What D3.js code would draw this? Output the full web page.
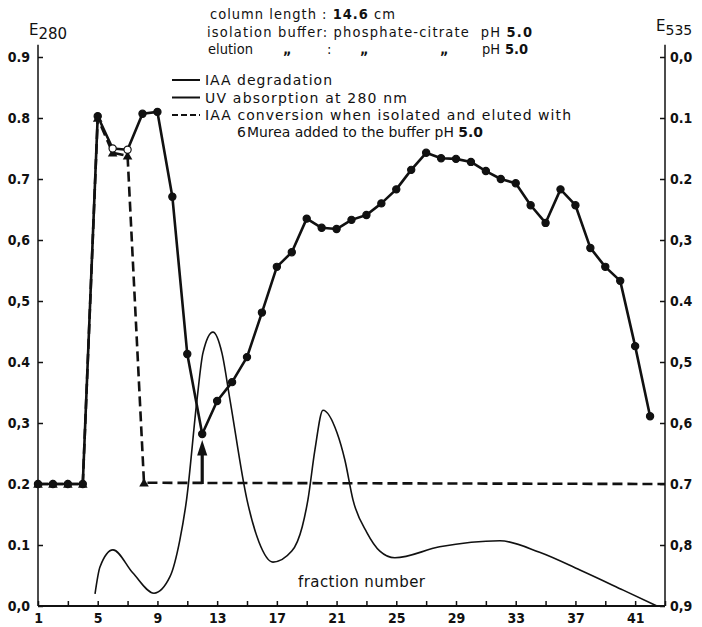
<!DOCTYPE html>
<html>
<head>
<meta charset="utf-8">
<script src="https://cdn.jsdelivr.net/npm/d3@7"></script>
<style>
body { margin: 0; background: #fff; }
text { font-family: "DejaVu Sans Condensed", "Liberation Sans Narrow", "Arial Narrow", sans-serif; fill: #111; }
text.wide { font-family: "DejaVu Sans", "Liberation Sans", Arial, sans-serif; }
</style>
</head>
<body>
<div id="graph"></div>
<script>
// IAA degradation (dots, read on the E535 axis), fractions 1..42
var degFractions = d3.range(1, 43);
var degE535 = [0.70, 0.70, 0.70, 0.70, 0.097, 0.15, 0.152, 0.093, 0.09, 0.229,
  0.487, 0.618, 0.564, 0.533, 0.492, 0.419, 0.344, 0.32, 0.265, 0.28,
  0.282, 0.267, 0.259, 0.24, 0.217, 0.185, 0.157, 0.166, 0.167, 0.172,
  0.187, 0.2, 0.207, 0.243, 0.272, 0.217, 0.243, 0.313, 0.344, 0.367,
  0.474, 0.589];
var openDots = [6, 7];

// IAA conversion with 6M urea (dashed, triangles), E535
var ureaFractions = [1, 2, 3, 4, 5, 6, 7, 8.1, 43];
var ureaE535 = [0.70, 0.70, 0.70, 0.70, 0.10, 0.157, 0.162, 0.698, 0.70];
var ureaMarked = 8; // only the first 8 points carry a triangle

// UV absorption at 280 nm (thin smooth line), E280
var uvFractions = [4.82, 5.15, 6.02, 7.36, 8.77, 9.84, 10.5, 10.95, 11.65, 12.05, 12.72,
  13.32, 13.86, 15.0, 15.8, 16.74, 18.0, 18.7, 19.08, 19.55, 20.09, 21.03, 21.56, 22.1,
  23.04, 23.9, 24.9, 27.9, 31.94, 34.6, 37.3, 40.2, 42.46];
var uvE280 = [0.02, 0.064, 0.092, 0.054, 0.021, 0.048, 0.108, 0.174, 0.338, 0.415, 0.449,
  0.415, 0.338, 0.174, 0.105, 0.072, 0.09, 0.13, 0.174, 0.256, 0.321, 0.284, 0.239, 0.174,
  0.12, 0.09, 0.079, 0.097, 0.107, 0.088, 0.059, 0.026, 0.0];

// arrow under the minimum of the degradation curve
var arrowFraction = 12, arrowFrom = 0.70, arrowTo = 0.635;

// axes
var leftTicks = [0, 0.1, 0.2, 0.3, 0.4, 0.5, 0.6, 0.7, 0.8, 0.9];
var leftLabels = ["0,0", "0.1", "0.2", "0,3", "0.4", "0,5", "0,6", "0.7", "0.8", "0.9"];
var rightLabels = ["0,0", "0.1", "0.2", "0,3", "0.4", "0,5", "0,6", "0.7", "0,8", "0,9"];
var xTicks = d3.range(1, 44, 2);
var xLabels = [1, 5, 9, 13, 17, 21, 25, 29, 33, 37, 41];
var axisTopValue = 0.92;

// header lines: [text, bold] pieces; third line is placed piece by piece
var header1 = [["column length : ", false], ["14.6", true], [" cm", false]];
var header2 = [["isolation buffer: phosphate-citrate  pH ", false], ["5.0", true]];
var header3 = [["elution", 208], ["\u201e", 283], [":", 327], ["\u201e", 360], ["\u201e", 440], ["pH", 482], ["5.0", 505]];

var legendItems = [
  {label: "IAA degradation", dash: null, len: 127},
  {label: "UV  absorption at 280 nm", dash: null, len: 202},
  {label: "IAA conversion when isolated and eluted with", dash: "6,3", len: 366}
];

var w = 702, h = 627;
var svg = d3.select("div#graph").append("svg")
  .attr("width", w)
  .attr("height", h);

var x = d3.scaleLinear().domain([1, 43]).range([38, 665]);
var yL = d3.scaleLinear().domain([0, 0.9]).range([606, 57]);
var yR = d3.scaleLinear().domain([0, 0.9]).range([57, 606]);

// left axis (ticks point inward)
var gL = svg.append("g").attr("transform", "translate(" + x(1) + ",0)")
  .call(d3.axisLeft(yL).tickValues(leftTicks).tickSizeInner(-5).tickSizeOuter(0).tickPadding(8)
    .tickFormat(function(d, i) { return leftLabels[i]; }));
gL.select(".domain").remove();
gL.append("line").attr("y1", yL(axisTopValue)).attr("y2", yL(0)).attr("stroke", "#111").attr("stroke-width", 1.5);

// right axis
var gR = svg.append("g").attr("transform", "translate(" + x(43) + ",0)")
  .call(d3.axisRight(yR).tickValues(leftTicks).tickSizeInner(-5).tickSizeOuter(0).tickPadding(5)
    .tickFormat(function(d, i) { return rightLabels[i]; }));
gR.select(".domain").remove();
gR.append("line").attr("y1", yR(0.9 - axisTopValue)).attr("y2", yR(0.9)).attr("stroke", "#111").attr("stroke-width", 1.5);

// bottom axis
var gB = svg.append("g").attr("transform", "translate(0," + yL(0) + ")")
  .call(d3.axisBottom(x).tickValues(xTicks).tickSizeInner(-5).tickSizeOuter(0).tickPadding(7)
    .tickFormat(function(d) { return xLabels.indexOf(d) >= 0 ? d : ""; }));
gB.select(".domain").remove();
gB.append("line").attr("x1", x(1)).attr("x2", x(43)).attr("stroke", "#111").attr("stroke-width", 2);

svg.selectAll(".tick line").attr("stroke", "#111").attr("stroke-width", 1.5);
svg.selectAll(".tick text").attr("fill", "#111")
  .style("font-size", "14px").style("font-weight", "bold");

// axis titles
var e280 = svg.append("text").attr("class", "wide").attr("x", 29).attr("y", 35).style("font-size", "15px");
e280.append("tspan").text("E");
e280.append("tspan").attr("dy", 4).text("280");
var e535 = svg.append("text").attr("class", "wide").attr("x", 656).attr("y", 31).style("font-size", "15px");
e535.append("tspan").text("E");
e535.append("tspan").attr("dy", 4).style("font-size", "14px").text("535");

svg.append("text").attr("class", "wide").attr("x", 298).attr("y", 587)
  .attr("textLength", 127).attr("lengthAdjust", "spacing")
  .style("font-size", "15px").text("fraction number");

// header
function pieces(sel, parts) {
  parts.forEach(function(p) {
    sel.append("tspan").style("font-weight", p[1] ? "bold" : "normal").text(p[0]);
  });
}
var h1 = svg.append("text").attr("x", 210).attr("y", 19).style("font-size", "14.5px")
  .attr("textLength", 185).attr("lengthAdjust", "spacing").attr("xml:space", "preserve");
pieces(h1, header1);
var h2 = svg.append("text").attr("x", 207).attr("y", 36.5).style("font-size", "14.5px")
  .attr("textLength", 325).attr("lengthAdjust", "spacing").attr("xml:space", "preserve");
pieces(h2, header2);
header3.forEach(function(p) {
  svg.append("text").attr("x", p[1]).attr("y", 54).style("font-size", "14.5px")
    .style("font-weight", p[0] === "5.0" || p[0] === "\u201e" ? "bold" : "normal")
    .text(p[0]);
});

// legend
legendItems.forEach(function(d, i) {
  var ly = 80 + i * 17.5;
  svg.append("line").attr("x1", 172).attr("x2", 200).attr("y1", ly).attr("y2", ly)
    .attr("stroke", "#111").attr("stroke-width", 2)
    .attr("stroke-dasharray", d.dash);
  svg.append("text").attr("class", "wide").attr("x", 205).attr("y", ly + 5)
    .attr("textLength", d.len).attr("lengthAdjust", "spacing")
    .style("font-size", "14px").text(d.label);
});
var l4 = svg.append("text").attr("class", "wide").attr("x", 237).attr("y", 137)
  .attr("textLength", 246).attr("lengthAdjust", "spacingAndGlyphs")
  .style("font-size", "14px");
l4.append("tspan").text("6");
l4.append("tspan").attr("dx", 1).text("Murea added to the buffer pH ");
l4.append("tspan").style("font-weight", "bold").text("5.0");

// UV thin curve
var uvData = uvFractions.map(function(f, i) { return {f: f, v: uvE280[i]}; });
svg.append("path").datum(uvData)
  .attr("fill", "none").attr("stroke", "#111").attr("stroke-width", 1.6)
  .attr("d", d3.line().curve(d3.curveMonotoneX)
    .x(function(d) { return x(d.f); }).y(function(d) { return yL(d.v); }));

// urea dashed curve
var ureaData = ureaFractions.map(function(f, i) { return {f: f, v: ureaE535[i]}; });
svg.append("path").datum(ureaData)
  .attr("fill", "none").attr("stroke", "#111").attr("stroke-width", 2.6)
  .attr("stroke-dasharray", "10,5")
  .attr("d", d3.line().x(function(d) { return x(d.f); }).y(function(d) { return yR(d.v); }));
svg.selectAll("path.tri").data(ureaData.slice(0, ureaMarked)).enter().append("path")
  .attr("class", "tri")
  .attr("d", d3.symbol().type(d3.symbolTriangle).size(40))
  .attr("transform", function(d) { return "translate(" + x(d.f) + "," + (yR(d.v) + 1) + ")"; })
  .attr("fill", "#111");

// degradation dotted line
var degData = degFractions.map(function(f, i) { return {f: f, v: degE535[i]}; });
svg.append("path").datum(degData)
  .attr("fill", "none").attr("stroke", "#111").attr("stroke-width", 2.6)
  .attr("stroke-linejoin", "round")
  .attr("d", d3.line().x(function(d) { return x(d.f); }).y(function(d) { return yR(d.v); }));
svg.selectAll("circle.dot").data(degData).enter().append("circle")
  .attr("class", "dot")
  .attr("cx", function(d) { return x(d.f); })
  .attr("cy", function(d) { return yR(d.v); })
  .attr("r", 3.6)
  .attr("fill", function(d) { return openDots.indexOf(d.f) >= 0 ? "#fff" : "#111"; })
  .attr("stroke", "#111").attr("stroke-width", 1.2);

// arrow
svg.append("line")
  .attr("x1", x(arrowFraction)).attr("x2", x(arrowFraction))
  .attr("y1", yR(arrowFrom)).attr("y2", yR(arrowTo) + 10)
  .attr("stroke", "#111").attr("stroke-width", 3.2);
svg.append("path")
  .attr("d", d3.symbol().type(d3.symbolTriangle).size(70))
  .attr("transform", "translate(" + x(arrowFraction) + "," + (yR(arrowTo) + 6) + ") scale(0.8,1.4)")
  .attr("fill", "#111");
</script>
</body>
</html>
